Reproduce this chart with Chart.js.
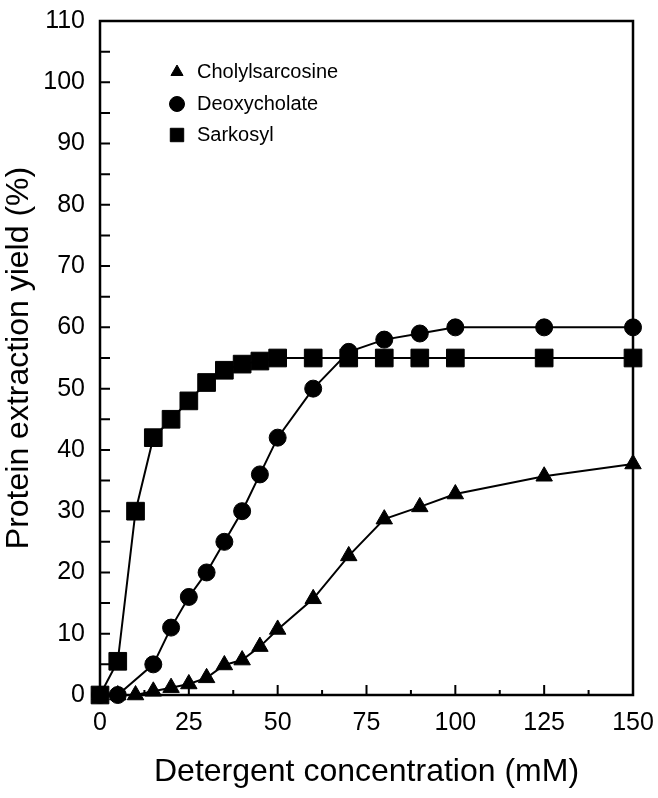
<!DOCTYPE html>
<html>
<head>
<meta charset="utf-8">
<script src="https://cdn.jsdelivr.net/npm/chart.js@4"></script>
<style>
  body { margin: 0; background: #fff; }
  #wrap { width: 658px; height: 798px; }
</style>
</head>
<body>
<div id="wrap"><canvas id="yield-chart"></canvas></div>
<script>
const FONT = '"Liberation Sans", Arial, sans-serif';

// detergent concentration (mM) and extraction yield (%)
const sarkosylConc  = [0, 5, 10, 15, 20, 25, 30, 35, 40, 45, 50, 60, 70, 80, 90, 100, 125, 150];
const sarkosylYield = [0, 5.5, 30, 42, 45, 48, 51, 53, 54, 54.5, 55, 55, 55, 55, 55, 55, 55, 55];

const deoxyConc  = [0, 5, 15, 20, 25, 30, 35, 40, 45, 50, 60, 70, 80, 90, 100, 125, 150];
const deoxyYield = [0, 0, 5, 11, 16, 20, 25, 30, 36, 42, 50, 56, 58, 59, 60, 60, 60];

const cholylConc  = [0, 5, 10, 15, 20, 25, 30, 35, 40, 45, 50, 60, 70, 80, 90, 100, 125, 150];
const cholylYield = [0, 0, 0, 0.6, 1.2, 1.8, 2.8, 4.9, 5.7, 7.9, 10.7, 15.7, 22.7, 28.7, 30.7, 32.8, 35.7, 37.7];

const xTicks = [0, 25, 50, 75, 100, 125, 150];
const yTicks = [0, 10, 20, 30, 40, 50, 60, 70, 80, 90, 100, 110];

const legendNames  = ["Cholylsarcosine", "Deoxycholate", "Sarkosyl"];
const legendStyles = ["triangle", "circle", "rect"];

function pairs(xs, ys) {
    return xs.map((x, i) => ({ x: x, y: ys[i] }));
}

function series(label, xs, ys, style, radius) {
    return {
        label: label,
        data: pairs(xs, ys),
        showLine: true,
        borderColor: "#000",
        backgroundColor: "#000",
        borderWidth: 2,
        pointStyle: style,
        pointRadius: radius,
        pointHoverRadius: radius,
        pointBorderWidth: 1,
        clip: false
    };
}

// box frame + inward ticks, drawn under the markers
const framePlugin = {
    id: "frame",
    beforeDatasetsDraw(chart) {
        const ctx = chart.ctx;
        const a = chart.chartArea;
        const xs = chart.scales.x, ys = chart.scales.y;
        ctx.save();
        ctx.strokeStyle = "#000";
        ctx.lineWidth = 2.5;
        ctx.strokeRect(a.left, a.top, a.right - a.left, a.bottom - a.top);
        ctx.lineWidth = 2;
        ctx.beginPath();
        for (let v = 0; v <= 150; v += 12.5) {
            const px = xs.getPixelForValue(v);
            const len = (v % 25 === 0) ? 10 : 5;
            ctx.moveTo(px, a.bottom);
            ctx.lineTo(px, a.bottom - len);
        }
        for (let v = 0; v <= 110; v += 5) {
            const py = ys.getPixelForValue(v);
            ctx.moveTo(a.left, py);
            ctx.lineTo(a.left + 10, py);
        }
        ctx.stroke();
        ctx.restore();
    },
    afterDraw(chart) {
        const ctx = chart.ctx;
        const rows = [72, 104, 135];
        const radii = [7, 7.5, 9.5];
        ctx.save();
        ctx.fillStyle = "#000";
        ctx.strokeStyle = "#000";
        ctx.font = "20px " + FONT;
        ctx.textBaseline = "middle";
        legendNames.forEach((name, i) => {
            Chart.helpers.drawPoint(ctx, {
                pointStyle: legendStyles[i], radius: radii[i], rotation: 0, borderWidth: 1
            }, 177, rows[i]);
            ctx.fillText(name, 197, rows[i]);
        });
        ctx.restore();
    }
};

const chart = new Chart(document.getElementById("yield-chart"), {
    type: "scatter",
    data: {
        datasets: [
            series("Sarkosyl", sarkosylConc, sarkosylYield, "rect", 12.5),
            series("Deoxycholate", deoxyConc, deoxyYield, "circle", 8.5),
            series("Cholylsarcosine", cholylConc, cholylYield, "triangle", 9.5)
        ]
    },
    options: {
        responsive: true,
        maintainAspectRatio: false,
        animation: false,
        layout: { padding: { top: 21, right: 25, left: 0, bottom: 0 } },
        plugins: {
            legend: { display: false },
            tooltip: { enabled: false }
        },
        scales: {
            x: {
                type: "linear",
                min: 0,
                max: 150,
                afterBuildTicks: (s) => { s.ticks = xTicks.map(v => ({ value: v })); },
                afterFit: (s) => {
                    s.height = 103;
                    s.paddingLeft = 0;
                    s.paddingRight = 0;
                },
                grid: { display: false, drawTicks: false },
                border: { display: false },
                ticks: { color: "#000", padding: 13, font: { family: FONT, size: 25 } },
                title: {
                    display: true,
                    text: "Detergent concentration (mM)",
                    color: "#000",
                    padding: { top: 0, bottom: 7 },
                    font: { family: FONT, size: 32 }
                }
            },
            y: {
                min: 0,
                max: 110,
                afterBuildTicks: (s) => { s.ticks = yTicks.map(v => ({ value: v })); },
                afterFit: (s) => {
                    s.width = 100;
                    s.paddingTop = 0;
                    s.paddingBottom = 0;
                },
                grid: { display: false, drawTicks: false },
                border: { display: false },
                ticks: { color: "#000", padding: 15, font: { family: FONT, size: 25 } },
                title: {
                    display: true,
                    text: "Protein extraction yield (%)",
                    color: "#000",
                    padding: { top: 0, bottom: 0 },
                    font: { family: FONT, size: 32 }
                }
            }
        }
    },
    plugins: [framePlugin]
});
</script>
</body>
</html>
